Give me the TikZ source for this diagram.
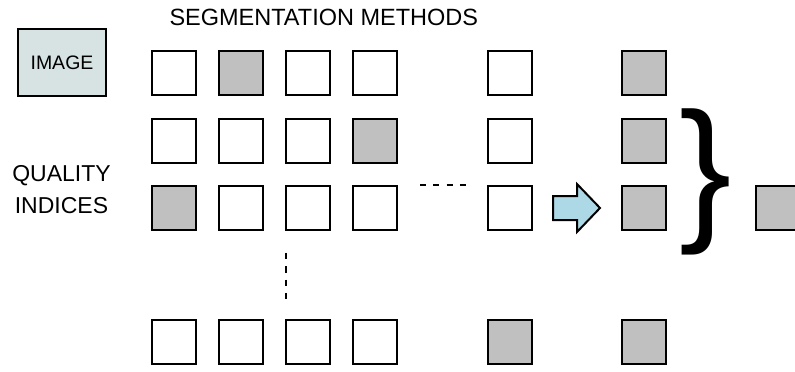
\documentclass[tikz,border=0pt]{standalone}
\usepackage{fontspec}
\setmainfont{Liberation Sans}
\usetikzlibrary{calc}
\definecolor{cell}{RGB}{192, 192, 192}
\definecolor{imgbg}{RGB}{215, 227, 227}
\definecolor{arrowbg}{RGB}{173, 216, 230}

\begin{document}
\begin{tikzpicture}[x=1pt, y=-1pt, line width=2pt,
    box/.style={draw, fill=white, minimum size=44pt, inner sep=0pt},
    hit/.style={box, fill=cell}]

  \useasboundingbox (0, 0) rectangle (795, 372);

  \node[draw, fill=imgbg, minimum width=88pt, minimum height=67pt,
    font=\fontsize{19.5}{22}\selectfont] (image) at (62, 62.5) {IMAGE};
  \node[anchor=base west, inner sep=0pt, font=\fontsize{23.5}{27}\selectfont]
    (methods) at (168.5, 25) {SEGMENTATION METHODS};
  \node[align=center, inner sep=0pt, font=\fontsize{23}{32}\selectfont]
    (quality) at (61.5, 189.8) {QUALITY\\INDICES};

  \foreach \r/\y/\row in {1/73.3/{box,hit,box,box,box,hit},
                          2/140.5/{box,box,box,hit,box,hit},
                          3/208/{hit,box,box,box,box,hit},
                          4/342.2/{box,box,box,box,hit,hit}} {
    \foreach \s [count=\c] in \row {
      \pgfmathsetmacro{\x}{{173.7,240.7,307.7,375.3,509.7,644.2}[\c-1]}
      \node[\s] (q\r\c) at (\x, \y) {};
    }
  }
  \node[hit] (q37) at (778, 208) {};

  \draw[line width=1.8pt, dash pattern=on 6pt off 7.3pt] (420, 185) -- (466, 185);
  \draw[line width=1.8pt, dash pattern=on 6.7pt off 6.7pt] (285.7, 252.7) -- (285.7, 299);

  \draw[fill=arrowbg] (553, 196) -- (577, 196) -- (577, 184) -- (600, 208)
    -- (577, 232) -- (577, 220) -- (553, 220) -- cycle;

  \node[anchor=base west, inner sep=0pt, font=\fontsize{157}{157}\selectfont]
    (brace) at (678, 222) {\}};

\end{tikzpicture}
\end{document}
